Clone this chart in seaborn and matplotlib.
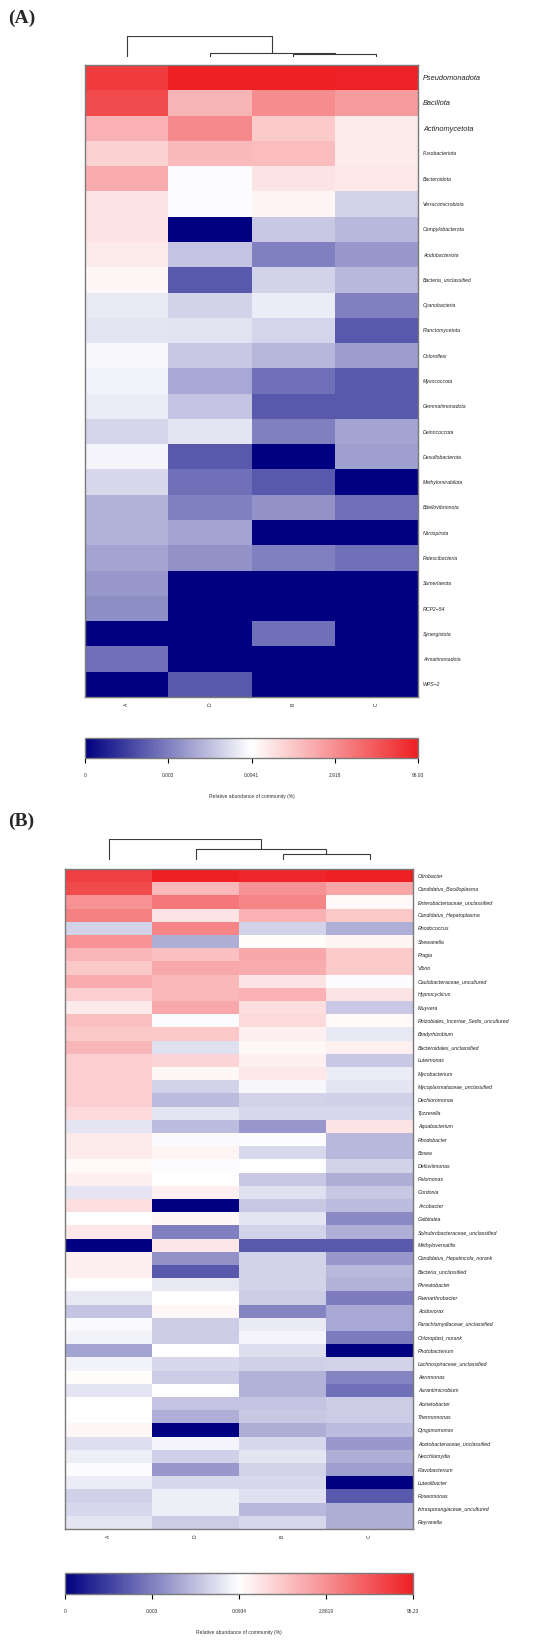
import numpy as np
import pandas as pd
import matplotlib
matplotlib.use("Agg")
import matplotlib.pyplot as plt
from matplotlib.colors import LinearSegmentedColormap, Normalize
from matplotlib.cm import ScalarMappable
import seaborn as sns

sns.set_style("white")
plt.rcParams['font.family'] = ['Liberation Sans', 'DejaVu Sans']

# ---- data -------------------------------------------------------------
samples = ["A", "D", "B", "C"]

phyla = ["Pseudomonadota", "Bacillota", "Actinomycetota", "Fusobacteriota", "Bacteroidota",
         "Verrucomicrobiota", "Campylobacterota", "Acidobacteriota", "Bacteria_unclassified",
         "Cyanobacteria", "Planctomycetota", "Chloroflexi", "Myxococcota", "Gemmatimonadota",
         "Deinococcota", "Desulfobacterota", "Methylomirabilota", "Bdellovibrionota",
         "Nitrospirota", "Patescibacteria", "Sumerlaeota", "RCP2\u221254", "Synergistota",
         "Armatimonadota", "WPS\u22122"]
phy_A = [40, 25, 1.0, 0.4, 1.2, 0.22, 0.22, 0.17, 0.12, 0.055, 0.045, 0.08, 0.065,
         0.058, 0.03, 0.07, 0.034, 0.012, 0.012, 0.008, 0.006, 0.0045, 0, 0.002, 0]
phy_D = [97, 0.9, 3.5, 0.8, 0.085, 0.085, 0, 0.019, 0.001, 0.028, 0.043, 0.022, 0.009,
         0.019, 0.045, 0.001, 0.002, 0.003, 0.008, 0.005, 0, 0, 0, 0, 0.001]
phy_B = [92, 3.1, 0.45, 0.75, 0.22, 0.13, 0.022, 0.003, 0.028, 0.058, 0.03, 0.013, 0.002,
         0.001, 0.003, 0, 0.001, 0.005, 0, 0.003, 0, 0, 0.002, 0, 0]
phy_C = [90, 2.0, 0.17, 0.17, 0.19, 0.028, 0.014, 0.006, 0.014, 0.003, 0.001, 0.0065, 0.001,
         0.001, 0.008, 0.007, 0, 0.002, 0, 0.002, 0, 0, 0, 0, 0]
phy_ticks = [0, 0.003, 0.0941, 2.918, 96.93]
phy_merges = [("B", "C", 0.13), ("D", "BC", 0.2), ("A", "DBC", 1.0)]

genera = ["Citrobacter", "Candidatus_Bacilloplasma", "Enterobacteriaceae_unclassified",
          "Candidatus_Hepatoplasma", "Rhodococcus", "Shewanella", "Pragia", "Vibrio",
          "Caulobacteraceae_uncultured", "Hypnocyclicus", "Kluyvera",
          "Rhizobiales_Incertae_Sedis_uncultured", "Bradyrhizobium", "Bacteroidales_unclassified",
          "Luteimonas", "Mycobacterium", "Mycoplasmataceae_unclassified", "Dechloromonas",
          "Tyzzerella", "Aquabacterium", "Rhodobacter", "Bosea", "Defluviimonas", "Pelomonas",
          "Gordonia", "Arcobacter", "Galbitalea", "Solirubrobacteraceae_unclassified",
          "Methyloversatilis", "Candidatus_Hepatincola_norank", "Bacteria_unclassified",
          "Phreatobacter", "Paenarthrobacter", "Acidovorax", "Parachlamydiaceae_unclassified",
          "Chloroplast_norank", "Photobacterium", "Lachnospiraceae_unclassified", "Aeromonas",
          "Aurantimicrobium", "Acinetobacter", "Thermomonas", "Dysgonomonas",
          "Acetobacteraceae_unclassified", "Neochlamydia", "Flavobacterium", "Luteolibacter",
          "Roseomonas", "Intrasporangiaceae_uncultured", "Reyranella"]
gen_A = [35, 25, 2.6, 4.5, 0.028, 2.6, 0.85, 0.5, 1.2, 0.4, 0.17, 0.65, 0.5, 0.85, 0.4, 0.4,
         0.4, 0.4, 0.3, 0.045, 0.17, 0.17, 0.11, 0.15, 0.045, 0.25, 0.09, 0.19, 0, 0.15, 0.15,
         0.095, 0.05, 0.019, 0.08, 0.065, 0.008, 0.065, 0.1, 0.045, 0.095, 0.095, 0.12, 0.038,
         0.058, 0.085, 0.055, 0.027, 0.033, 0.045]
gen_D = [95, 0.8, 6, 0.22, 4, 0.011, 0.65, 1.3, 0.8, 0.8, 1.3, 0.085, 0.5, 0.04, 0.35, 0.12,
         0.028, 0.016, 0.045, 0.016, 0.08, 0.13, 0.085, 0.095, 0.15, 0, 0.12, 0.003, 0.2, 0.005,
         0.001, 0.05, 0.09, 0.12, 0.024, 0.024, 0.095, 0.033, 0.024, 0.095, 0.019, 0.011, 0,
         0.07, 0.027, 0.006, 0.033, 0.058, 0.058, 0.024]
gen_B = [80, 2.6, 4, 1.0, 0.028, 0.1, 1.3, 1.2, 0.22, 1.0, 0.25, 0.3, 0.15, 0.12, 0.15, 0.19,
         0.075, 0.028, 0.033, 0.006, 0.085, 0.033, 0.095, 0.022, 0.04, 0.022, 0.045, 0.028,
         0.001, 0.028, 0.028, 0.028, 0.024, 0.0035, 0.052, 0.07, 0.038, 0.027, 0.012, 0.012,
         0.019, 0.022, 0.011, 0.033, 0.045, 0.028, 0.033, 0.04, 0.014, 0.033]
gen_C = [95, 1.5, 0.11, 0.5, 0.011, 0.13, 0.45, 0.45, 0.085, 0.22, 0.022, 0.11, 0.05, 0.15,
         0.022, 0.055, 0.045, 0.027, 0.033, 0.22, 0.014, 0.014, 0.028, 0.011, 0.022, 0.016,
         0.004, 0.011, 0.001, 0.006, 0.014, 0.012, 0.0027, 0.009, 0.009, 0.0027, 0, 0.028,
         0.0035, 0.002, 0.024, 0.024, 0.016, 0.006, 0.011, 0.007, 0, 0.001, 0.011, 0.011]
gen_ticks = [0, 0.003, 0.0934, 2.8819, 95.23]
gen_merges = [("B", "C", 0.29), ("D", "BC", 0.52), ("A", "DBC", 1.0)]

cmap = LinearSegmentedColormap.from_list("navy_white_red", ["#000080", "#FFFFFF", "#EE2024"])
W, H = 550, 1646


def to_scale(values, ticks):
    # colour key is evenly spaced in log(x + 1e-4) between the printed ticks
    v = np.log10(np.asarray(values, float) + 1e-4)
    t = np.log10(np.asarray(ticks, float) + 1e-4)
    return np.interp(v, t, np.linspace(0, 1, len(ticks)))


def px_axes(fig, x0, y0, x1, y1):
    return fig.add_axes([x0 / W, 1 - y1 / H, (x1 - x0) / W, (y1 - y0) / H])


def draw_dendrogram(ax, merges):
    pos = {s: i + 0.5 for i, s in enumerate(samples)}
    hgt = {s: 0.0 for s in samples}
    for left, right, h in merges:
        for node in (left, right):
            ax.plot([pos[node], pos[node]], [hgt[node], h], color="#3a3a3a", lw=0.8,
                    solid_capstyle="butt")
        ax.plot([pos[left], pos[right]], [h, h], color="#3a3a3a", lw=0.8)
        pos[left + right] = (pos[left] + pos[right]) / 2
        hgt[left + right] = h
    ax.set_xlim(0, len(samples))
    ax.set_ylim(0, 1)
    ax.axis("off")


def draw_panel(fig, letter, rows, cols, ticks, merges, box, dendro_y, cbar_y,
               row_fs, big_rows=0, big_fs=None):
    x0, y0, x1, y1 = box
    fig.text(8 / W, 1 - dendro_y[0] / H + 18 / H, f"({letter})", fontsize=14, fontweight="bold",
             family=["Liberation Serif", "DejaVu Serif"], va="center", ha="left")

    df = pd.DataFrame({s: to_scale(c, ticks) for s, c in zip(samples, cols)}, index=rows)
    ax = px_axes(fig, x0, y0, x1, y1)
    sns.heatmap(df, ax=ax, cmap=cmap, vmin=0, vmax=1, cbar=False,
                xticklabels=samples, yticklabels=rows)
    ax.yaxis.tick_right()
    ax.tick_params(axis="both", length=0)
    ax.tick_params(axis="y", pad=3.5)
    ax.tick_params(axis="x", pad=4)
    for i, lab in enumerate(ax.get_yticklabels()):
        lab.set_rotation(0)
        lab.set_fontstyle("italic")
        lab.set_fontsize(big_fs if i < big_rows else row_fs)
        lab.set_color("#222222")
    for lab in ax.get_xticklabels():
        lab.set_rotation(90)
        lab.set_fontsize(3.6)
        lab.set_color("#333333")
    for sp in ax.spines.values():
        sp.set_visible(True)
        sp.set_color("#7a7a7a")
        sp.set_linewidth(1.0)

    dax = px_axes(fig, x0, dendro_y[0], x1, dendro_y[1])
    draw_dendrogram(dax, merges)

    cax = px_axes(fig, x0, cbar_y[0], x1, cbar_y[1])
    sm = ScalarMappable(norm=Normalize(0, 1), cmap=cmap)
    cb = fig.colorbar(sm, cax=cax, orientation="horizontal", ticks=np.linspace(0, 1, len(ticks)))
    cb.set_ticklabels([f"{t:g}" for t in ticks])
    cb.outline.set_edgecolor("#7a7a7a")
    cb.outline.set_linewidth(1.0)
    cax.spines["bottom"].set_color("black")
    cax.tick_params(axis="x", length=3.6, width=0.8, labelsize=3.5, pad=7.5, color="black",
                    labelcolor="#333333")
    cax.set_xlabel("Relative abundance of community (%)", fontsize=3.6, labelpad=11,
                   color="#333333")


fig = plt.figure(figsize=(W / 100, H / 100), dpi=100)

draw_panel(fig, "A", phyla, [phy_A, phy_D, phy_B, phy_C], phy_ticks, phy_merges,
           box=(85, 65, 418, 697), dendro_y=(36, 57), cbar_y=(738, 758),
           row_fs=3.7, big_rows=3, big_fs=5.3)
draw_panel(fig, "B", genera, [gen_A, gen_D, gen_B, gen_C], gen_ticks, gen_merges,
           box=(65, 869, 413, 1529), dendro_y=(839, 860), cbar_y=(1573, 1594),
           row_fs=3.8)

fig.savefig("out.png", dpi=100, facecolor="white")
